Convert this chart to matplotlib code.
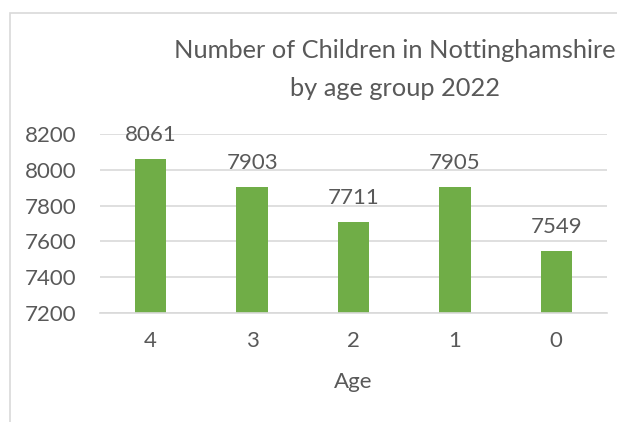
import matplotlib.pyplot as plt
from matplotlib.patches import Rectangle

ages = ["4", "3", "2", "1", "0"]
children = [8061, 7903, 7711, 7905, 7549]
y_ticks = [7200, 7400, 7600, 7800, 8000, 8200]

txt = "#595959"
plt.rcParams['font.family'] = ['Lato', 'DejaVu Sans']

W, H = 617, 422
fig = plt.figure(figsize=(W / 100, H / 100), dpi=100)

# chart border (clipped at right and bottom like the reference)
fig.patches.append(Rectangle((10 / W, -0.1), 1.2, (H - 13) / H + 0.1,
                             transform=fig.transFigure, fill=False,
                             edgecolor="#D9D9D9", linewidth=1.2))

ax = fig.add_axes([100 / W, (H - 313) / H, 507 / W, 179 / H])
x = range(len(ages))
bars = ax.bar(x, children, width=0.31, color="#70AD47", zorder=2)
for b, v in zip(bars, children):
    ax.text(b.get_x() + b.get_width() / 2, v + 100, str(v), ha="center",
            va="baseline", fontsize=16, color=txt, clip_on=False)

ax.set_ylim(7200, 8200)
ax.set_xlim(-0.5, len(ages) - 0.5)
ax.set_yticks(y_ticks)
ax.set_xticks(list(x))
ax.set_xticklabels(ages)
ax.grid(axis="y", color="#D9D9D9", linewidth=1.2, zorder=0)
for s in ["top", "right", "left"]:
    ax.spines[s].set_visible(False)
ax.spines["bottom"].set_color("#D9D9D9")
ax.spines["bottom"].set_linewidth(1.2)
ax.tick_params(length=0, labelsize=16, labelcolor=txt)
ax.tick_params(axis="y", pad=17)
ax.tick_params(axis="x", pad=13)
ax.set_xlabel("Age", fontsize=16, color=txt, labelpad=15)

fig.text(395 / W, 1 - 50 / H, "Number of Children in Nottinghamshire",
         ha="center", va="center", fontsize=18.3, color=txt)
fig.text(395 / W, 1 - 88 / H, "by age group 2022",
         ha="center", va="center", fontsize=18.3, color=txt)

fig.savefig("out.png", dpi=100)
